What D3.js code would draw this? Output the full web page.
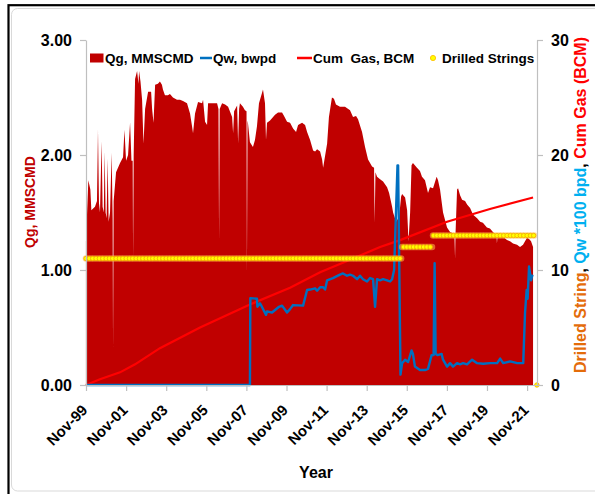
<!DOCTYPE html>
<html>
<head>
<meta charset="utf-8">
<script src="https://cdn.jsdelivr.net/npm/d3@7"></script>
<style>
  html, body { margin: 0; padding: 0; background: #fff; }
  svg { display: block; }
  text { font-family: "Liberation Sans", Arial, sans-serif; }
</style>
</head>
<body>
<svg id="chart" width="595" height="494"></svg>
<script>
// ---- data (time as decimal year) ----
// Gas rate, MMSCMD
const qgSeries = [
  [1999.83,1.25],[1999.95,1.78],[2000.05,1.70],[2000.10,1.52],[2000.28,1.55],[2000.38,1.60],
  [2000.43,2.22],[2000.48,1.58],[2000.53,1.50],[2000.61,2.12],[2000.66,1.55],[2000.72,1.50],
  [2000.76,2.03],[2000.81,1.50],[2000.86,1.45],[2000.91,1.97],[2000.96,1.42],[2001.03,1.50],
  [2001.11,2.02],[2001.16,1.45],[2001.18,0.33],[2001.21,1.60],[2001.33,1.85],[2001.53,1.93],
  [2001.68,1.98],[2001.75,2.22],[2001.83,1.95],[2001.93,2.00],[2002.03,2.28],[2002.10,1.95],
  [2002.16,1.95],[2002.18,1.10],[2002.21,2.00],[2002.28,2.66],[2002.38,2.73],[2002.45,2.62],
  [2002.48,2.73],[2002.55,2.64],[2002.63,2.48],[2002.70,2.10],[2002.78,2.40],[2002.93,2.55],
  [2003.08,2.55],[2003.13,2.40],[2003.20,2.28],[2003.28,2.61],[2003.42,2.62],[2003.52,2.64],
  [2003.62,2.61],[2003.67,2.57],[2003.77,2.52],[2003.92,2.52],[2004.02,2.53],[2004.17,2.50],
  [2004.37,2.48],[2004.52,2.48],[2004.67,2.47],[2004.87,2.45],[2005.02,2.36],[2005.12,2.25],
  [2005.17,2.19],[2005.27,2.36],[2005.42,2.46],[2005.62,2.45],[2005.67,2.48],[2005.77,2.29],
  [2005.87,2.26],[2005.92,2.45],[2006.02,2.45],[2006.37,2.45],[2006.44,2.40],[2006.47,1.26],
  [2006.50,2.40],[2006.62,2.45],[2006.77,2.44],[2006.92,2.42],[2007.12,2.33],[2007.17,2.19],
  [2007.22,2.38],[2007.37,2.43],[2007.42,2.10],[2007.47,2.40],[2007.51,2.45],[2007.66,2.42],
  [2007.76,2.39],[2007.84,2.38],[2007.86,0.97],[2007.89,2.30],[2007.91,2.28],[2008.01,2.11],
  [2008.16,2.07],[2008.26,2.13],[2008.36,2.25],[2008.46,2.45],[2008.61,2.54],[2008.66,2.57],
  [2008.76,2.45],[2008.81,2.13],[2008.86,2.28],[2009.01,2.30],[2009.26,2.35],[2009.41,2.37],
  [2009.61,2.37],[2009.71,2.34],[2009.86,2.29],[2010.01,2.28],[2010.16,2.23],[2010.31,2.20],
  [2010.41,2.26],[2010.61,2.28],[2010.76,2.26],[2010.86,2.20],[2011.01,2.13],[2011.16,2.04],
  [2011.26,2.03],[2011.36,2.05],[2011.51,2.03],[2011.61,1.96],[2011.66,1.89],[2011.86,2.10],
  [2011.95,2.33],[2012.10,2.50],[2012.20,2.49],[2012.30,2.44],[2012.50,2.42],[2012.75,2.42],
  [2013.00,2.39],[2013.15,2.33],[2013.30,2.34],[2013.40,2.31],[2013.60,2.20],[2013.75,2.07],
  [2013.90,1.96],[2014.10,1.90],[2014.20,1.89],[2014.23,1.41],[2014.27,1.85],[2014.35,1.81],
  [2014.50,1.79],[2014.65,1.77],[2014.85,1.72],[2014.95,1.67],[2015.00,1.63],[2015.10,1.55],
  [2015.15,1.50],[2015.30,1.42],[2015.45,1.46],[2015.55,1.64],[2015.60,1.66],[2015.75,1.63],
  [2015.85,1.52],[2015.92,1.25],[2016.00,1.50],[2016.07,1.91],[2016.14,1.93],[2016.34,1.89],
  [2016.49,1.86],[2016.59,1.81],[2016.74,1.78],[2016.89,1.67],[2016.99,1.72],[2017.14,1.71],
  [2017.32,1.81],[2017.39,1.78],[2017.49,1.70],[2017.64,1.50],[2017.84,1.37],[2017.99,1.33],
  [2018.14,1.32],[2018.21,1.30],[2018.24,1.10],[2018.26,1.30],[2018.34,1.70],[2018.39,1.71],
  [2018.49,1.65],[2018.59,1.61],[2018.74,1.60],[2018.84,1.57],[2018.99,1.54],[2019.14,1.48],
  [2019.34,1.45],[2019.49,1.42],[2019.63,1.41],[2019.83,1.37],[2019.98,1.36],[2020.13,1.33],
  [2020.31,1.30],[2020.33,1.23],[2020.36,1.30],[2020.48,1.30],[2020.63,1.29],[2020.83,1.26],
  [2020.98,1.25],[2021.13,1.23],[2021.33,1.22],[2021.48,1.20],[2021.63,1.22],[2021.83,1.28],
  [2021.93,1.27],[2022.03,1.25],[2022.13,1.20]
];

// Water rate, in hundreds of bwpd (right axis)
const qwSeries = [
  [1999.83,0],[2008.01,0],[2008.03,7.55],[2008.36,7.5],[2008.38,6.8],[2008.51,7.1],[2008.56,6.95],
  [2008.81,6.1],[2008.86,6.4],[2009.11,6.3],[2009.46,6.8],[2009.61,6.9],[2009.86,6.3],[2010.01,6.6],
  [2010.16,6.95],[2010.66,6.9],[2010.86,8.26],[2011.01,8.3],[2011.26,8.4],[2011.36,8.2],
  [2011.51,8.5],[2011.66,8.5],[2011.76,8.3],[2011.86,9.1],[2012.15,9.3],[2012.50,9.6],
  [2012.65,9.7],[2012.85,9.5],[2013.00,9.6],[2013.15,9.5],[2013.35,9.2],[2013.50,9.5],
  [2013.65,9.2],[2013.85,9.0],[2014.00,9.3],[2014.15,9.2],[2014.25,6.8],[2014.35,9.2],
  [2014.50,9.1],[2014.65,9.2],[2014.85,9.1],[2015.00,9.0],[2015.10,9.2],[2015.20,10.0],
  [2015.37,19.1],[2015.40,19.1],[2015.52,0.9],[2015.60,1.9],[2015.75,2.2],[2015.90,2.0],
  [2016.07,3.0],[2016.14,2.7],[2016.24,1.6],[2016.49,1.3],[2016.74,1.3],[2016.89,1.4],
  [2017.07,2.6],[2017.17,2.6],[2017.22,10.6],[2017.27,2.7],[2017.37,2.6],[2017.57,2.7],
  [2017.64,2.2],[2017.84,1.6],[2017.99,1.9],[2018.14,1.6],[2018.34,1.9],[2018.49,1.8],
  [2018.64,1.9],[2018.84,1.8],[2019.09,2.2],[2019.34,1.9],[2019.64,1.85],[2019.99,1.9],
  [2020.34,1.9],[2020.49,2.3],[2020.64,1.9],[2020.99,2.05],[2021.34,1.9],[2021.64,1.9],
  [2021.73,6.3],[2021.81,8.26],[2021.86,7.5],[2021.93,10.3],[2022.03,9.1],[2022.10,9.6]
];

// Cumulative gas, BCM (right axis)
const cumGasSeries = [
  [1999.83,0],[2000.53,0.5],[2001.53,1.1],[2002.28,1.8],[2003.52,3.2],[2005.52,5.0],
  [2008.01,7.0],[2010.01,8.45],[2011.51,9.8],[2013.15,11.0],[2014.50,12.0],[2015.50,12.6],
  [2017.84,14.2],[2019.98,15.3],[2022.13,16.3]
];

// Drilled strings: count held over each period
const stringCount = [11, 12, 13, 0];
const stringFrom  = [1999.83, 2015.60, 2017.14, 2022.32];
const stringTo    = [2015.55, 2017.09, 2022.18, 2022.32];

// Axis ticks
const xTickYears   = [1999, 2001, 2003, 2005, 2007, 2009, 2011, 2013, 2015, 2017, 2019, 2021];
const yLeftTicks   = [0, 1, 2, 3];
const yRightTicks  = [0, 10, 20, 30];

// ---- helpers ----
function yearToDate(y) {
  const Y = Math.floor(y);
  const a = new Date(Y, 0, 1), b = new Date(Y + 1, 0, 1);
  return new Date(+a + (y - Y) * (b - a));
}

const C_GAS = "#C00000", C_WATER = "#0070C0", C_CUM = "#FF0000";
const FONT = "'Liberation Sans', Arial, sans-serif";

const svg = d3.select("#chart");

// frame
svg.append("rect").attr("x", 11.5).attr("y", 8.5).attr("width", 600).attr("height", 482.5)
  .attr("rx", 6).attr("fill", "#fff").attr("stroke", "#D9D9D9").attr("stroke-width", 1);
svg.append("rect").attr("x", 8.5).attr("y", 5.2).attr("width", 620).attr("height", 520)
  .attr("fill", "none").attr("stroke", "#000").attr("stroke-width", 2.2);

// scales
const x = d3.scaleTime()
  .domain([yearToDate(1999.833), yearToDate(2022.327)])
  .range([86, 537]);
const yL = d3.scaleLinear().domain([0, 3]).range([385, 40]);
const yR = d3.scaleLinear().domain([0, 30]).range([385, 40]);

// gas rate area
const area = d3.area()
  .x(d => x(yearToDate(d[0])))
  .y0(yL(0))
  .y1(d => yL(d[1]));
svg.append("path").datum(qgSeries).attr("d", area).attr("fill", C_GAS);

// cumulative gas
const lineR = d3.line().x(d => x(yearToDate(d[0]))).y(d => yR(d[1]));
svg.append("path").datum(cumGasSeries).attr("d", lineR)
  .attr("fill", "none").attr("stroke", C_CUM).attr("stroke-width", 2.2);

// water rate
svg.append("path").datum(qwSeries).attr("d", lineR)
  .attr("fill", "none").attr("stroke", C_WATER).attr("stroke-width", 2.4)
  .attr("stroke-linejoin", "round");

// drilled strings: one marker every two months over each period
const stringPts = [];
stringCount.forEach((n, i) => {
  const a = yearToDate(stringFrom[i]), b = yearToDate(stringTo[i]);
  const months = d3.timeMonth.every(2).range(a, d3.timeDay.offset(b, 1));
  (months.length ? months : [a]).forEach(m => stringPts.push([m, n]));
});
const gStr = svg.append("g");
stringCount.forEach((n, i) => {
  if (stringFrom[i] === stringTo[i]) return;
  gStr.append("line")
    .attr("x1", x(yearToDate(stringFrom[i]))).attr("x2", x(yearToDate(stringTo[i])))
    .attr("y1", yR(n)).attr("y2", yR(n))
    .attr("stroke", "#FFB84D").attr("stroke-opacity", 0.55)
    .attr("stroke-width", 6.5).attr("stroke-linecap", "round");
});
gStr.selectAll("circle").data(stringPts).join("circle")
  .attr("cx", d => x(d[0])).attr("cy", d => yR(d[1])).attr("r", 2.2)
  .attr("fill", "#FFFF00").attr("stroke", "#F5B000").attr("stroke-width", 0.9);

// axes
const axisColor = "#BFBFBF";
function styleAxis(g) {
  g.select(".domain").attr("stroke", axisColor).attr("stroke-width", 1.2);
  g.selectAll(".tick line").attr("stroke", axisColor).attr("stroke-width", 1.2);
  g.selectAll("text").attr("fill", "#000").attr("font-family", FONT)
    .attr("font-weight", "bold").attr("font-size", 16);
}

const gL = svg.append("g").attr("transform", "translate(86,0)")
  .call(d3.axisLeft(yL).tickValues(yLeftTicks).tickFormat(d3.format(".2f"))
    .tickSize(6).tickSizeOuter(0).tickPadding(8));
styleAxis(gL);

const gR = svg.append("g").attr("transform", "translate(537,0)")
  .call(d3.axisRight(yR).tickValues(yRightTicks).tickSize(6).tickSizeOuter(0).tickPadding(8));
styleAxis(gR);

const fmtX = d3.timeFormat("%b-%y");
const gX = svg.append("g").attr("transform", "translate(0,385)")
  .call(d3.axisBottom(x).tickValues(xTickYears.map(y => new Date(y, 10, 1)))
    .tickFormat(fmtX).tickSize(6).tickSizeOuter(0));
styleAxis(gX);
gX.selectAll("text")
  .attr("font-size", 15)
  .attr("x", 0).attr("y", 0).attr("dy", 0)
  .attr("text-anchor", "end")
  .attr("transform", "translate(2,26) rotate(-45)");

// axis titles
svg.append("text").attr("x", 316).attr("y", 478).attr("text-anchor", "middle")
  .attr("font-weight", "bold").attr("font-size", 16).attr("fill", "#000").text("Year");

svg.append("text").attr("transform", "translate(35,202) rotate(-90)")
  .attr("text-anchor", "middle").attr("font-weight", "bold").attr("font-size", 14)
  .attr("fill", C_GAS).text("Qg, MMSCMD");

const rt = svg.append("text").attr("transform", "translate(586,205) rotate(-90)")
  .attr("text-anchor", "middle").attr("font-weight", "bold").attr("font-size", 16)
  .attr("xml:space", "preserve").style("white-space", "pre");
rt.append("tspan").attr("fill", "#E46C0A").text("Drilled String");
rt.append("tspan").attr("fill", "#000").text(", ");
rt.append("tspan").attr("fill", "#00B0F0").text("Qw *100 bpd");
rt.append("tspan").attr("fill", "#000").text(", ");
rt.append("tspan").attr("fill", C_CUM).text("Cum Gas (BCM)");

// legend
const lg = svg.append("g").attr("font-weight", "bold").attr("font-size", 13.5).attr("fill", "#000");
lg.append("rect").attr("x", 90).attr("y", 53.5).attr("width", 13.5).attr("height", 9).attr("fill", C_GAS);
lg.append("text").attr("x", 105).attr("y", 63).text("Qg, MMSCMD");
lg.append("line").attr("x1", 200).attr("x2", 212).attr("y1", 58).attr("y2", 58)
  .attr("stroke", C_WATER).attr("stroke-width", 2.5);
lg.append("text").attr("x", 213).attr("y", 63).text("Qw, bwpd");
lg.append("line").attr("x1", 297).attr("x2", 312).attr("y1", 58).attr("y2", 58)
  .attr("stroke", C_CUM).attr("stroke-width", 2.5);
lg.append("text").attr("x", 313).attr("y", 63).style("white-space", "pre").text("Cum  Gas, BCM");
lg.append("circle").attr("cx", 433).attr("cy", 58).attr("r", 2.6)
  .attr("fill", "#FFFF00").attr("stroke", "#FFC000").attr("stroke-width", 0.9);
lg.append("text").attr("x", 442).attr("y", 63).text("Drilled Strings");
</script>
</body>
</html>
